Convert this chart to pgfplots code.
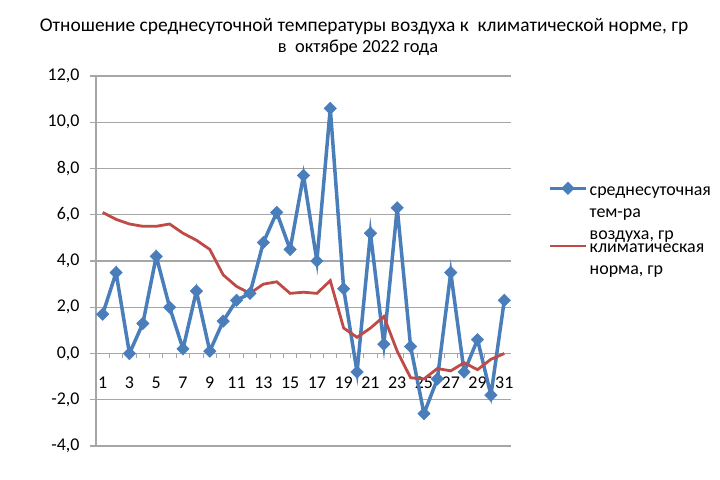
\documentclass[border=0pt]{standalone}
\usepackage{fontspec}
\setmainfont{Carlito}
\usepackage{pgfplots}
\pgfplotsset{compat=1.18}
\definecolor{serblue}{HTML}{4A7EBB}
\definecolor{serred}{HTML}{BE4B48}
\definecolor{gridgray}{HTML}{A6A6A6}
\pgfplotsset{
  bluelegend/.style={legend image code/.code={\draw[mark repeat=2, mark phase=2, ##1] plot coordinates {(0bp,22bp) (18bp,22bp) (36bp,22bp)};}},
  redlegend/.style={legend image code/.code={\draw[##1, line width=2.8bp] (0bp,11bp) -- (36bp,11bp);}},
}

\begin{document}
\begin{tikzpicture}
\path (0,0) rectangle (720bp,480bp);
\node[anchor=base, font=\fontsize{19.5}{21}\selectfont, inner sep=0] at (364bp,448bp)
  {Отношение среднесуточной температуры воздуха к\ \ климатической норме, гр};
\node[anchor=base, font=\fontsize{18.5}{21}\selectfont, inner sep=0] at (358bp,427bp)
  {в\ \ октябре 2022 года};
\begin{axis}[
  at={(96bp,34bp)}, anchor=south west,
  scale only axis, width=415bp, height=370bp,
  xmin=0.5, xmax=31.5, ymin=-4, ymax=12,
  axis x line=middle, axis y line=left,
  axis line style={-, draw=gridgray, line width=1.2bp},
  xtick={1,3,...,31},
  major x tick style={draw=none},
  minor xtick={1.5,2.5,...,30.5},
  minor x tick style={draw=gridgray, line width=1bp},
  minor tick length=5bp,
  xtick align=outside,
  ytick={-4,-2,...,12},
  ytick align=outside,
  major tick length=6bp,
  major y tick style={draw=gridgray, line width=1.2bp},
  ymajorgrids,
  major grid style={draw=gridgray, line width=1.2bp},
  tick label style={font=\fontsize{18}{21}\selectfont, text=black},
  /pgf/number format/assume math mode=true,
  yticklabel style={xshift=-7bp, /pgf/number format/.cd, fixed, fixed zerofill, precision=1, use comma, 1000 sep={}},
  xticklabel style={yshift=-14bp},
  clip=false,
  legend style={at={(1.082,0.725)}, anchor=north west, draw=none, fill=none,
    font=\fontsize{18}{22}\selectfont, row sep=-3bp, column sep=2bp,
    nodes={inner sep=0pt}},
  legend cell align=left,
]
\addplot[color=serblue, line width=3.5bp, mark=square*, mark size=4.4bp,
  mark options={rotate=45, solid, line width=0.5bp, fill=serblue}, bluelegend]
  coordinates {
  (1,1.7) (2,3.5) (3,0.0) (4,1.3) (5,4.2) (6,2.0) (7,0.2) (8,2.7) (9,0.1) (10,1.4)
  (11,2.3) (12,2.6) (13,4.8) (14,6.1) (15,4.5) (16,7.7) (17,4.0) (18,10.6) (19,2.8) (20,-0.8)
  (21,5.2) (22,0.4) (23,6.3) (24,0.3) (25,-2.6) (26,-1.1) (27,3.5) (28,-0.8) (29,0.6) (30,-1.8)
  (31,2.3)};
\addlegendentry{\begin{tabular}[b]{@{}l@{}}среднесуточная\\тем-ра\\воздуха, гр\end{tabular}}
\addplot[color=serred, line width=2.8bp, mark=none, redlegend]
  coordinates {
  (1,6.1) (2,5.8) (3,5.6) (4,5.5) (5,5.5) (6,5.6) (7,5.2) (8,4.9) (9,4.5) (10,3.4)
  (11,2.9) (12,2.6) (13,3.0) (14,3.1) (15,2.6) (16,2.65) (17,2.6) (18,3.15) (19,1.1) (20,0.7)
  (21,1.1) (22,1.6) (23,0.1) (24,-1.05) (25,-1.1) (26,-0.65) (27,-0.75) (28,-0.4) (29,-0.7) (30,-0.25)
  (31,0.0)};
\addlegendentry{\begin{tabular}[b]{@{}l@{}}климатическая\\норма, гр\end{tabular}}
\end{axis}
\end{tikzpicture}
\end{document}
